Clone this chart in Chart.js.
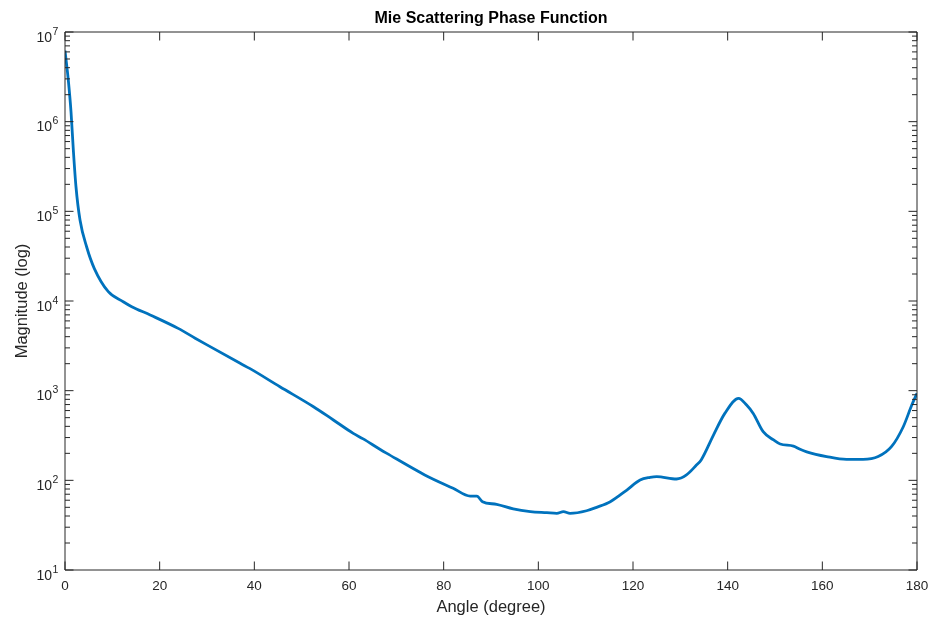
<!DOCTYPE html>
<html>
<head>
<meta charset="utf-8">
<title>Mie Scattering Phase Function</title>
<script src="https://cdn.jsdelivr.net/npm/chart.js@4"></script>
<style>
  html, body { margin: 0; padding: 0; background: #fff; }
</style>
</head>
<body>
<canvas id="mie" width="932" height="619"></canvas>
<script>
// values (angle in degrees, magnitude on log axis)
const angles = [0, 0.7, 1.27, 1.76, 2.32, 3.17, 4.58, 6.2, 9.15, 12.3, 14.1, 18, 23.9, 27.5, 30,
  37, 39.1, 45.4, 52.5, 56.7, 60.9, 63, 66.6, 68, 76, 82, 85.6, 87, 88.2, 91.2, 94.7, 98.3,
  101.8, 103.9, 105.3, 106.7, 110.2, 112.3, 115.2, 118.7, 121.5, 123.6, 125, 129.2, 131.3,
  133.4, 134.4, 137, 139.4, 142.3, 144, 145.4, 147.5, 149.7, 151.1, 153.9, 155.3, 156.7,
  160.9, 165.1, 168.6, 171.8, 174.6, 177.1, 178.9, 180];
const magnitudes = [6.2e6, 2.9e6, 1.29e6, 4.83e5, 1.88e5, 8.0e4, 4.0e4, 2.3e4, 1.27e4, 9820, 8650, 6980, 4950, 3850, 3240,
  2020, 1760, 1107, 662, 471, 334, 290, 221, 200, 115, 81.5, 66.8, 66.8, 57.8, 54, 48, 44.8,
  43.6, 42.9, 44.8, 42.9, 45.8, 50, 57.8, 78, 101, 108, 110, 103.5, 115,
  148, 169, 320, 558, 822, 692, 558, 349, 282, 254, 241, 222, 208,
  184, 171, 171, 184, 237, 396, 692, 933];

const xTicks = [0, 20, 40, 60, 80, 100, 120, 140, 160, 180];
const yTicks = [1e1, 1e2, 1e3, 1e4, 1e5, 1e6, 1e7];

const axisColor = '#262626';
const lineColor = '#0072bd';
const fontFamily = '"Liberation Sans", Arial, Helvetica, sans-serif';

// box around the axes, with inward ticks on all four sides (log minor ticks too),
// plus the 10^n labels of the y axis drawn with a raised exponent
const boxPlugin = {
  id: 'box',
  afterDraw(chart) {
    const { ctx, chartArea: a, scales: { x, y } } = chart;
    const major = 8.5;
    const minor = 5;
    ctx.save();
    ctx.strokeStyle = axisColor;
    ctx.lineWidth = 1;
    ctx.beginPath();
    ctx.rect(a.left, a.top, a.right - a.left, a.bottom - a.top);
    for (const t of xTicks) {
      const px = x.getPixelForValue(t);
      ctx.moveTo(px, a.bottom); ctx.lineTo(px, a.bottom - major);
      ctx.moveTo(px, a.top); ctx.lineTo(px, a.top + major);
    }
    for (const d of yTicks) {
      for (let m = 1; m < 10; m++) {
        const v = d * m;
        if (v > yTicks[yTicks.length - 1]) break;
        const py = y.getPixelForValue(v);
        const len = m === 1 ? major : minor;
        ctx.moveTo(a.left, py); ctx.lineTo(a.left + len, py);
        ctx.moveTo(a.right, py); ctx.lineTo(a.right - len, py);
      }
    }
    ctx.stroke();

    ctx.fillStyle = axisColor;
    ctx.textAlign = 'left';
    ctx.textBaseline = 'alphabetic';
    for (const v of yTicks) {
      const py = y.getPixelForValue(v);
      const e = String(Math.round(Math.log10(v)));
      ctx.font = '10.5px ' + fontFamily;
      const ew = ctx.measureText(e).width;
      const ex = a.left - 6.7 - ew;
      ctx.fillText(e, ex, py + 2.5);
      ctx.font = '14px ' + fontFamily;
      const bw = ctx.measureText('10').width;
      ctx.fillText('10', ex - 0.5 - bw, py + 9.7);
    }
    ctx.restore();
  }
};

const ctx = document.getElementById('mie').getContext('2d');

const myChart = new Chart(ctx, {
  type: 'line',
  data: {
    datasets: [{
      label: 'Phase function',
      data: angles.map((a, i) => ({ x: a, y: magnitudes[i] })),
      borderColor: lineColor,
      backgroundColor: lineColor,
      borderWidth: 2.8,
      pointRadius: 0,
      cubicInterpolationMode: 'monotone',
      fill: false
    }]
  },
  options: {
    responsive: false,
    animation: false,
    layout: { padding: { top: 0, right: 15, bottom: 0, left: 0 } },
    plugins: {
      legend: { display: false },
      tooltip: { enabled: false },
      title: {
        display: true,
        fullSize: false,
        text: 'Mie Scattering Phase Function',
        color: '#000',
        font: { family: fontFamily, size: 16, weight: 'bold', lineHeight: 1.2 },
        padding: { top: 9.4, bottom: 3.4 }
      }
    },
    scales: {
      x: {
        type: 'linear',
        min: 0,
        max: 180,
        afterBuildTicks: axis => { axis.ticks = xTicks.map(v => ({ value: v })); },
        afterFit: axis => {
          axis.height = 49;
          axis.paddingLeft = 0;
          axis.paddingRight = 0;
        },
        grid: { display: false, drawTicks: false },
        border: { display: false },
        ticks: {
          color: axisColor,
          padding: 8,
          maxRotation: 0,
          font: { family: fontFamily, size: 13.5 }
        },
        title: {
          display: true,
          text: 'Angle (degree)',
          color: axisColor,
          font: { family: fontFamily, size: 16.5, lineHeight: 1.2 },
          padding: { top: 0, bottom: 2.1 }
        }
      },
      y: {
        type: 'logarithmic',
        min: 10,
        max: 1e7,
        afterBuildTicks: axis => { axis.ticks = yTicks.map(v => ({ value: v })); },
        afterFit: axis => { axis.width = 65; },
        grid: { display: false, drawTicks: false },
        border: { display: false },
        ticks: { display: false },
        title: {
          display: true,
          text: 'Magnitude (log)',
          color: axisColor,
          font: { family: fontFamily, size: 16.5, lineHeight: 1.2 },
          padding: { top: 12.1, bottom: 0 }
        }
      }
    }
  },
  plugins: [boxPlugin]
});
</script>
</body>
</html>
